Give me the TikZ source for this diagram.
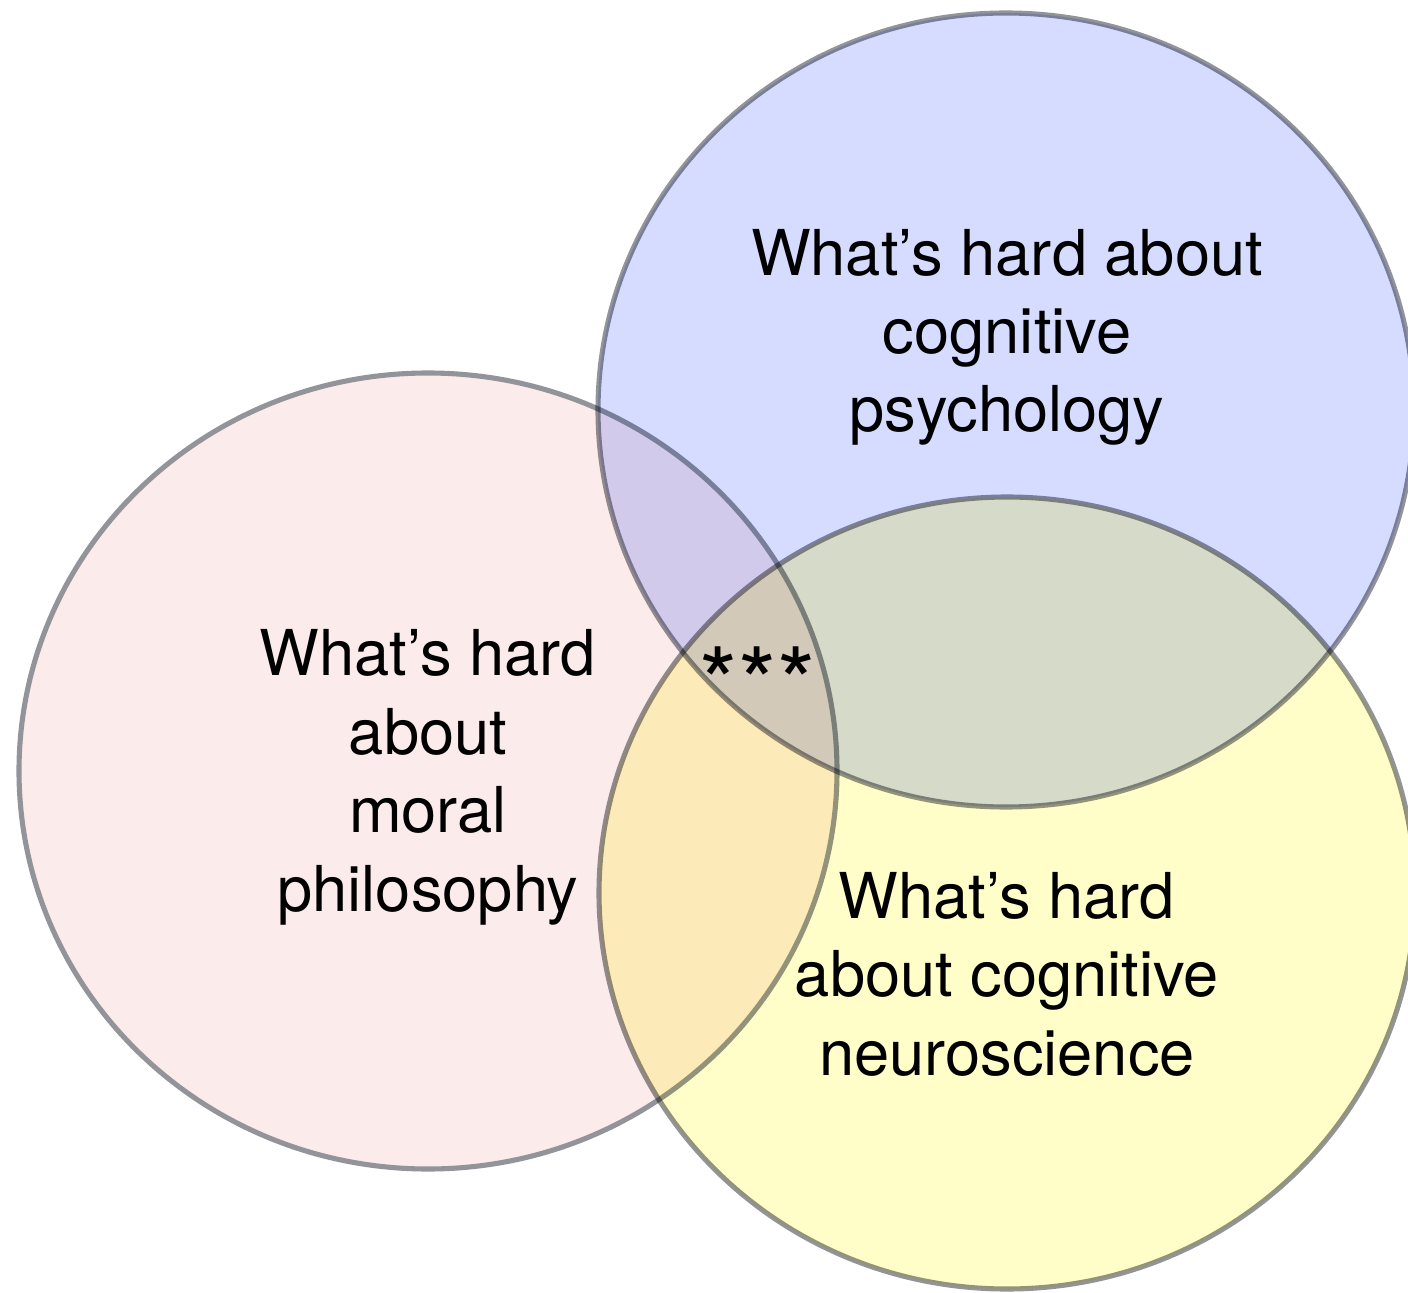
\documentclass[tikz,border=0pt]{standalone}
\usepackage{fontspec}
\setmainfont{TeX Gyre Heros}

\definecolor{moralfill}{RGB}{252,235,235}
\definecolor{psychfill}{RGB}{213,220,255}
\definecolor{neurofill}{RGB}{255,254,200}
\definecolor{rimgray}{RGB}{146,148,154}

\begin{document}
\begin{tikzpicture}[
    x=0.02cm, y=-0.02cm,
    venn/.style={draw=rimgray, line width=2.9pt},
    topic/.style={font=\fontsize{36}{44.6}\selectfont, align=center, anchor=base, inner sep=0pt},
    stars/.style={font=\fontsize{56}{56}\selectfont, anchor=base, inner sep=0pt}
]
\useasboundingbox (0,0) rectangle (1408,1293);
\clip (0,0) rectangle (1408,1293);
\fill[white] (0,0) rectangle (1408,1293);

% centres of the three sets
\coordinate (moral) at (428,771);
\coordinate (psych) at (1006,410);
\coordinate (neuro) at (1007,893);

\draw[venn, fill=moralfill] (moral) ellipse [x radius=409, y radius=398];
\begin{scope}[blend mode=multiply]
    \draw[venn, fill=psychfill] (psych) ellipse [x radius=408, y radius=397];
    \draw[venn, fill=neurofill] (neuro) ellipse [x radius=408, y radius=396];
\end{scope}

% labels (anchored at the baseline of the last line)
\node[topic] (psychtext) at (1007,432) {What’s hard about\\cognitive\\psychology};
\node[topic] (moraltext) at (428,911) {What’s hard\\about\\moral\\philosophy};
\node[topic] (neurotext) at (1007,1075) {What’s hard\\about cognitive\\neuroscience};
\node[stars] (core) at (758,718) {*\kern0.5pt*\kern0.5pt*};

\end{tikzpicture}
\end{document}
